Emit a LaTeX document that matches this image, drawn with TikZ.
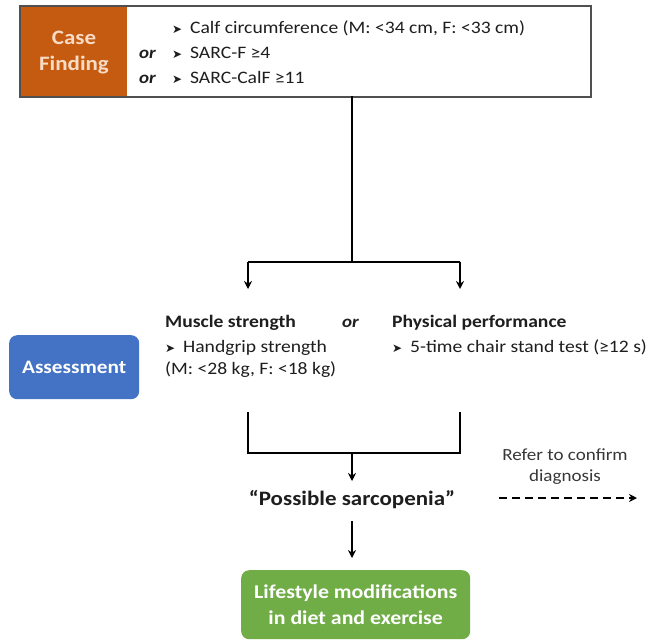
\documentclass[tikz,border=0pt]{standalone}
\usepackage{fontspec}
\setmainfont{Carlito}[FakeStretch=1.12]
\newfontfamily\symfont{DejaVu Sans}
\usetikzlibrary{arrows.meta}
\definecolor{cforange}{HTML}{C55A11}
\definecolor{cfpeach}{HTML}{F9DCC6}
\definecolor{cfblue}{HTML}{4472C4}
\definecolor{cfgreen}{HTML}{70AD47}
\definecolor{cfgray}{HTML}{505050}
\definecolor{cftext}{HTML}{1E1E1E}
\newcommand{\bul}{{\symfont\fontsize{12}{12}\selectfont ➤}\hspace{0.45em}}
\tikzset{
  conn/.style={line width=1.7pt, black},
  arr/.style={conn, -{Stealth[length=8pt,width=8pt]}},
  txt/.style={anchor=base west, inner sep=0pt, text=cftext, font=\fontsize{17.5}{21}\selectfont},
  head/.style={anchor=base west, inner sep=0pt, text=cftext, font=\fontsize{17.5}{21}\selectfont\bfseries},
  ortxt/.style={anchor=base west, inner sep=0pt, text=cftext, font=\fontsize{17}{21}\selectfont\bfseries\itshape},
  pill/.style={rounded corners=8pt, text=white, align=center, inner sep=0pt}
}
\begin{document}
\begin{tikzpicture}[x=1pt,y=-1pt]
\useasboundingbox (0,0) rectangle (652,640);
\fill[white] (0,0) rectangle (652,640);

% Case finding box
\fill[cforange] (19,5) rectangle (127,96);
\node[align=center, text=cfpeach, font=\fontsize{20.5}{26}\selectfont\bfseries] (cf) at (74,53) {Case\\Finding};
\node[draw=cfgray, line width=1.6pt, minimum width=571pt, minimum height=91pt, anchor=north west, inner sep=0pt] (cfbox) at (19,5) {};

\node[txt] (c1) at (172,33) {\bul Calf circumference (M: <34 cm, F: <33 cm)};
\node[ortxt] (or1) at (139,58) {or};
\node[txt] (c2) at (172,58) {\bul SARC-F ≥4};
\node[ortxt] (or2) at (139,83) {or};
\node[txt] (c3) at (172,83) {\bul SARC-CalF ≥11};

% split
\coordinate (top) at (352,96);
\coordinate (split) at (352,262);
\coordinate (jl) at (248,262);
\coordinate (jr) at (460,262);
\coordinate (al) at (248,289);
\coordinate (ar) at (460,289);
\draw[conn] (top) -- (split);
\draw[conn] (jl) -- (jr);
\draw[arr] (jl) -- (al);
\draw[arr] (jr) -- (ar);

% Assessment
\node[pill, fill=cfblue, minimum width=130pt, minimum height=64pt, anchor=north west, font=\fontsize{19}{23}\selectfont\bfseries] (assess) at (9,335) {Assessment};

\node[head] (ms) at (165,327) {Muscle strength};
\node[ortxt] (or3) at (342,327) {or};
\node[head] (pp) at (392,327) {Physical performance};
\node[txt] (hg) at (165,352) {\bul Handgrip strength};
\node[txt] (hg2) at (165,374) {(M: <28 kg, F: <18 kg)};
\node[txt] (cs) at (392,352) {\bul 5-time chair stand test (≥12 s)};

% bracket
\coordinate (bl) at (248,412);
\coordinate (blb) at (248,453);
\coordinate (brb) at (460,453);
\coordinate (br) at (460,412);
\coordinate (bm) at (352,453);
\draw[conn] (bl) -- (blb) -- (brb) -- (br);

\node[inner sep=0pt, text=cftext, font=\fontsize{20.5}{25}\selectfont\bfseries] (ps) at (352,500) {“Possible sarcopenia”};
\coordinate (psin) at (352,481);
\draw[arr] (bm) -- (psin);

\node[align=center, inner sep=0pt, text=cfgray!70!black, font=\fontsize{17}{21}\selectfont] (refer) at (565,467) {Refer to confirm\\diagnosis};
\coordinate (dstart) at (499,498);
\coordinate (dend) at (637,498);
\draw[conn, dash pattern=on 8pt off 5pt, -{Stealth[length=8pt,width=8pt]}] (dstart) -- (dend);

\node[pill, fill=cfgreen, minimum width=229pt, minimum height=69pt, anchor=north west, font=\fontsize{19.5}{26}\selectfont\bfseries] (life) at (241,570) {Lifestyle modifications\\in diet and exercise};
\coordinate (psout) at (352,521);
\coordinate (lifein) at (352,558);
\draw[arr] (psout) -- (lifein);
\end{tikzpicture}
\end{document}
